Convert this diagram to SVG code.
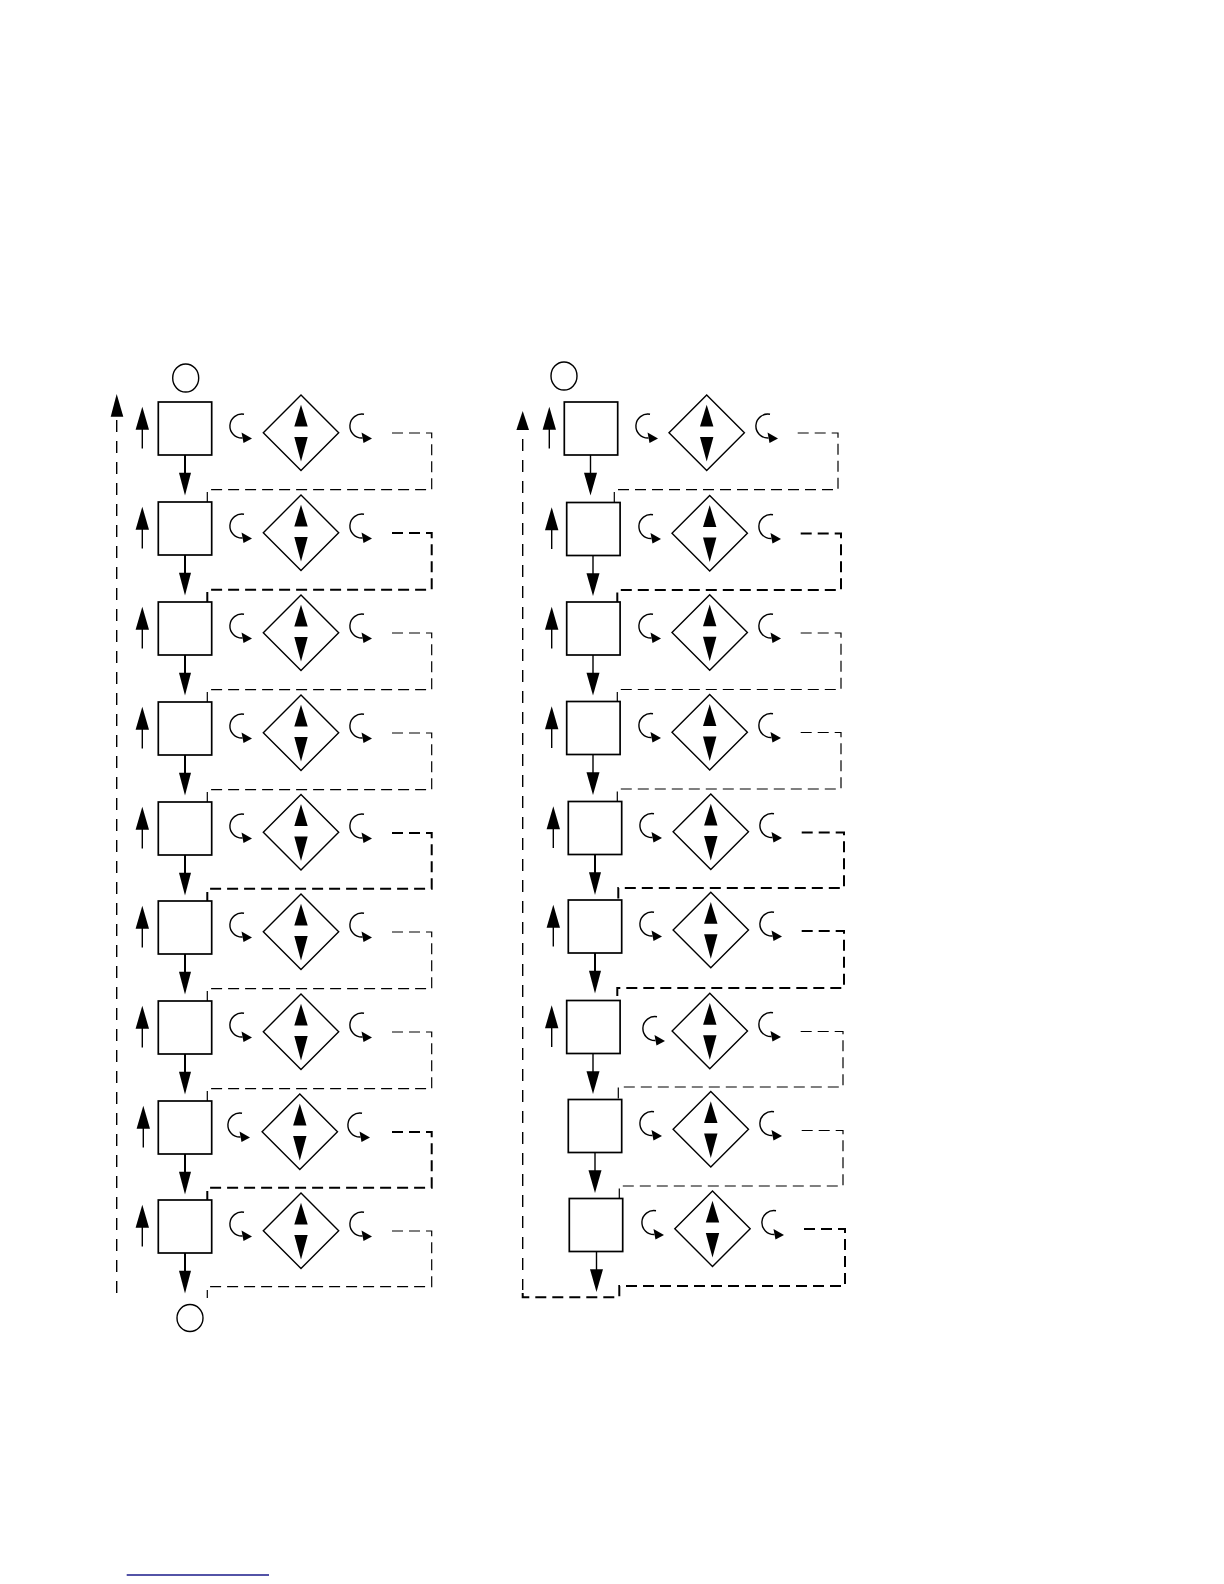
<svg xmlns="http://www.w3.org/2000/svg" xmlns:xlink="http://www.w3.org/1999/xlink" width="1224" height="1584" viewBox="0 0 1224 1584">
<style>
.bx{fill:#fff;stroke:#000;stroke-width:1.7}
.ci{fill:#fff;stroke:#000;stroke-width:1.4}
.d{fill:none;stroke:#000;stroke-width:1.2;stroke-dasharray:11 6}
.dk{fill:none;stroke:#000;stroke-width:2;stroke-dasharray:11 6}
.lv{fill:none;stroke:#000;stroke-width:1.4;stroke-dasharray:12 9}
.ln{fill:none;stroke:#000;stroke-width:1.4}
.lnk{fill:none;stroke:#000;stroke-width:2}
</style>
<defs>
<g id="dia">
<polygon points="0,-37.7 37.7,0 0,37.7 -37.7,0" fill="#fff" stroke="#000" stroke-width="1.4"/>
<polygon points="0,-28 6.7,-6.3 -6.7,-6.3" fill="#000"/>
<polygon points="-6.7,4.3 6.7,4.3 0,28.7" fill="#000"/>
</g>
<g id="curl">
<path d="M2,-11.8 A12,12 0 1 0 0.5,12" class="ln"/>
<polygon points="-0.5,6.5 10,12.5 1.5,17" fill="#000"/>
</g>
<g id="upA">
<polygon points="0,0 6.7,23 -6.7,23" fill="#000"/>
<line x1="0" y1="20" x2="0" y2="41.7" class="ln"/>
</g>
<g id="downA">
<line x1="0" y1="0" x2="0" y2="20" class="lnk"/>
<polygon points="-6,17.7 6,17.7 0,40.4" fill="#000"/>
</g>
<g id="downAt">
<line x1="0" y1="0" x2="0" y2="20" class="ln"/>
<polygon points="-6.5,17.7 6.5,17.7 0,40.4" fill="#000"/>
</g>
</defs>

<g id="connectors">
<polygon points="116.7,394 110.7,416.7 123.3,416.7" fill="#000"/>
<path class="lv" d="M116.7,420 V1298"/>
<path class="d" d="M392,433 H431.7 V489.7 H207.3 V502"/>
<path class="dk" d="M392,533 H431.7 V589.7 H207.3 V602"/>
<path class="d" d="M392,633 H431.7 V689.7 H207.3 V702"/>
<path class="d" d="M392,733 H431.7 V789.7 H207.3 V802"/>
<path class="dk" d="M392,833 H431.7 V888.7 H207.3 V901"/>
<path class="d" d="M392,932 H431.7 V988.7 H207.3 V1001"/>
<path class="d" d="M392,1032 H431.7 V1088.7 H207.3 V1101"/>
<path class="dk" d="M392,1132 H431.7 V1187.7 H207.3 V1200"/>
<path class="d" d="M392,1231 H431.7 V1286.7 H207.3 V1298"/>
<polygon points="522.7,411 516.4,430 529,430" fill="#000"/>
<path class="lv" d="M522.7,439 V1290"/>
<path class="d" d="M797.7,433 H838 V489.7 H614.3 V502.5"/>
<path class="dk" d="M800.7,533.5 H841 V590 H617.3 V602"/>
<path class="d" d="M800.7,633 H841 V689.5 H617.3 V701.5"/>
<path class="d" d="M800.7,732.5 H841 V789 H617.3 V801.5"/>
<path class="dk" d="M801.7,832.5 H844 V888 H618.3 V900"/>
<path class="dk" d="M801.7,931 H844 V988 H617.3 V1000.5"/>
<path class="d" d="M800.7,1031.5 H843 V1087 H618.3 V1099.5"/>
<path class="d" d="M801.7,1130.5 H843 V1186 H619.3 V1198.5"/>
<path class="dk" d="M804,1229 H845 V1286 H619.3 V1297.3 H522.7 V1288"/>
</g>

<g id="start-left"><ellipse class="ci" cx="185.7" cy="378" rx="13" ry="14"/></g>
<g id="end-left"><ellipse class="ci" cx="190" cy="1318" rx="13" ry="13.5"/></g>
<g id="start-right"><ellipse class="ci" cx="564" cy="376" rx="13" ry="14"/></g>

<g id="L1"><rect class="bx" x="158.3" y="402" width="53.4" height="53"/><use xlink:href="#upA" x="142.3" y="406.7"/><use xlink:href="#curl" x="242" y="426"/><use xlink:href="#dia" x="301" y="432.7"/><use xlink:href="#curl" x="362" y="426"/><use xlink:href="#downA" x="185" y="455"/></g>
<g id="L2"><rect class="bx" x="158.3" y="502" width="53.4" height="53"/><use xlink:href="#upA" x="142.3" y="506.7"/><use xlink:href="#curl" x="242" y="526"/><use xlink:href="#dia" x="301" y="532.7"/><use xlink:href="#curl" x="362" y="526"/><use xlink:href="#downA" x="185" y="555"/></g>
<g id="L3"><rect class="bx" x="158.3" y="602" width="53.4" height="53"/><use xlink:href="#upA" x="142.3" y="606.7"/><use xlink:href="#curl" x="242" y="626"/><use xlink:href="#dia" x="301" y="632.7"/><use xlink:href="#curl" x="362" y="626"/><use xlink:href="#downA" x="185" y="655"/></g>
<g id="L4"><rect class="bx" x="158.3" y="702" width="53.4" height="53"/><use xlink:href="#upA" x="142.3" y="706.7"/><use xlink:href="#curl" x="242" y="726"/><use xlink:href="#dia" x="301" y="732.7"/><use xlink:href="#curl" x="362" y="726"/><use xlink:href="#downA" x="185" y="755"/></g>
<g id="L5"><rect class="bx" x="158.3" y="802" width="53.4" height="53"/><use xlink:href="#upA" x="142.3" y="806.7"/><use xlink:href="#curl" x="242" y="826"/><use xlink:href="#dia" x="301" y="832.2"/><use xlink:href="#curl" x="362" y="826"/><use xlink:href="#downA" x="185" y="855"/></g>
<g id="L6"><rect class="bx" x="158.3" y="901" width="53.4" height="53"/><use xlink:href="#upA" x="142.3" y="905.7"/><use xlink:href="#curl" x="242" y="925"/><use xlink:href="#dia" x="301" y="931.7"/><use xlink:href="#curl" x="362" y="925"/><use xlink:href="#downA" x="185" y="954"/></g>
<g id="L7"><rect class="bx" x="158.3" y="1001" width="53.4" height="53"/><use xlink:href="#upA" x="142.3" y="1005.7"/><use xlink:href="#curl" x="242" y="1025"/><use xlink:href="#dia" x="301" y="1031.7"/><use xlink:href="#curl" x="362" y="1025"/><use xlink:href="#downA" x="185" y="1054"/></g>
<g id="L8"><rect class="bx" x="158.3" y="1101" width="53.4" height="53"/><use xlink:href="#upA" x="143.3" y="1105.7"/><use xlink:href="#curl" x="240" y="1125"/><use xlink:href="#dia" x="299.8" y="1131.7"/><use xlink:href="#curl" x="360" y="1125"/><use xlink:href="#downA" x="185" y="1154"/></g>
<g id="L9"><rect class="bx" x="158.3" y="1200" width="53.4" height="53"/><use xlink:href="#upA" x="142.3" y="1204.7"/><use xlink:href="#curl" x="242" y="1224"/><use xlink:href="#dia" x="301" y="1230.7"/><use xlink:href="#curl" x="362" y="1224"/><use xlink:href="#downA" x="185" y="1253"/></g>

<g id="R1"><rect class="bx" x="564.3" y="402" width="53.4" height="53"/><use xlink:href="#upA" x="549.3" y="406.7"/><use xlink:href="#curl" x="648" y="426"/><use xlink:href="#dia" x="706.7" y="432.7"/><use xlink:href="#curl" x="768" y="426"/><use xlink:href="#downAt" x="590.5" y="455"/></g>
<g id="R2"><rect class="bx" x="566.7" y="502.5" width="53.4" height="53"/><use xlink:href="#upA" x="551.7" y="507.2"/><use xlink:href="#curl" x="651" y="526.5"/><use xlink:href="#dia" x="709.7" y="533.2"/><use xlink:href="#curl" x="771" y="526.5"/><use xlink:href="#downAt" x="593" y="555.5"/></g>
<g id="R3"><rect class="bx" x="566.7" y="602" width="53.4" height="53"/><use xlink:href="#upA" x="551.7" y="606.7"/><use xlink:href="#curl" x="651" y="626"/><use xlink:href="#dia" x="709.7" y="632.5"/><use xlink:href="#curl" x="771" y="626"/><use xlink:href="#downAt" x="593" y="655"/></g>
<g id="R4"><rect class="bx" x="566.7" y="701.5" width="53.4" height="53"/><use xlink:href="#upA" x="551.7" y="706.2"/><use xlink:href="#curl" x="651" y="725.5"/><use xlink:href="#dia" x="709.7" y="732.2"/><use xlink:href="#curl" x="771" y="725.5"/><use xlink:href="#downAt" x="593" y="754.5"/></g>
<g id="R5"><rect class="bx" x="568.3" y="801.5" width="53.4" height="53"/><use xlink:href="#upA" x="553.3" y="806.2"/><use xlink:href="#curl" x="652" y="825.5"/><use xlink:href="#dia" x="710.8" y="831.7"/><use xlink:href="#curl" x="772" y="825.5"/><use xlink:href="#downA" x="595" y="854.5"/></g>
<g id="R6"><rect class="bx" x="568.3" y="900" width="53.4" height="53"/><use xlink:href="#upA" x="553.3" y="904.7"/><use xlink:href="#curl" x="652" y="924"/><use xlink:href="#dia" x="710.8" y="930"/><use xlink:href="#curl" x="772" y="924"/><use xlink:href="#downA" x="595" y="953"/></g>
<g id="R7"><rect class="bx" x="566.7" y="1000.5" width="53.4" height="53"/><use xlink:href="#upA" x="551.7" y="1005.2"/><use xlink:href="#curl" x="655" y="1028.5"/><use xlink:href="#dia" x="709.8" y="1031"/><use xlink:href="#curl" x="771" y="1024.5"/><use xlink:href="#downAt" x="593" y="1053.5"/></g>
<g id="R8"><rect class="bx" x="568.3" y="1099.5" width="53.4" height="53"/><use xlink:href="#curl" x="652" y="1123.5"/><use xlink:href="#dia" x="710.8" y="1129.2"/><use xlink:href="#curl" x="772" y="1123.5"/><use xlink:href="#downAt" x="595" y="1152.5"/></g>
<g id="R9"><rect class="bx" x="569.3" y="1198.5" width="53.4" height="53"/><use xlink:href="#curl" x="654" y="1222.5"/><use xlink:href="#dia" x="712.5" y="1228.8"/><use xlink:href="#curl" x="774" y="1222.5"/><use xlink:href="#downAt" x="596.5" y="1251.5"/></g>

<line x1="126.7" y1="1575" x2="269" y2="1575" stroke="#1a1a8a" stroke-width="1.3"/>
</svg>
